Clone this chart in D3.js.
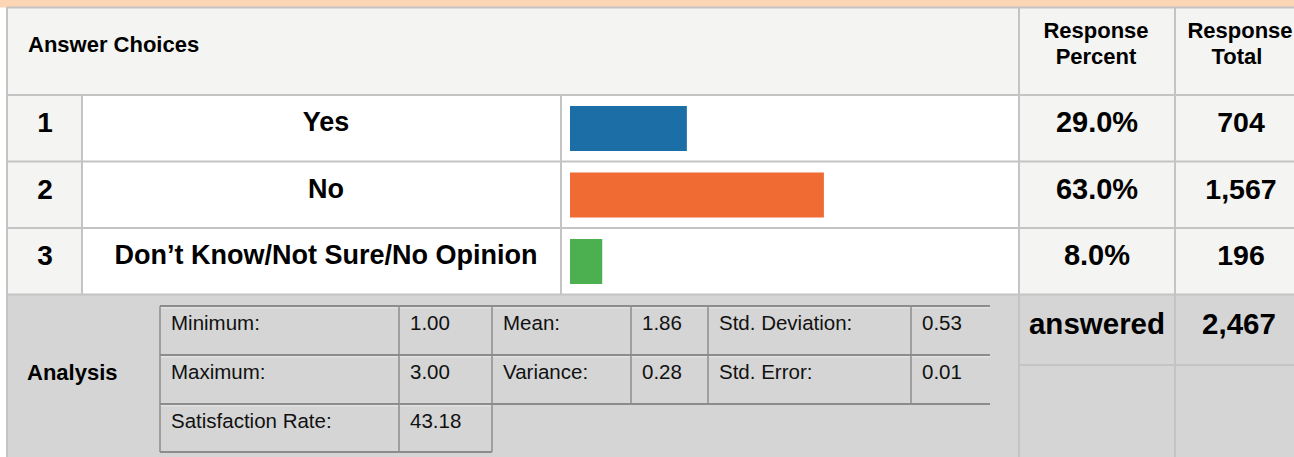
<!DOCTYPE html>
<html>
<head>
<meta charset="utf-8">
<script src="https://cdn.jsdelivr.net/npm/d3@7"></script>
<style>
  html, body { margin: 0; padding: 0; background: #fff; overflow: hidden; }
  svg { display: block; font-family: "Liberation Sans", Arial, sans-serif; }
</style>
</head>
<body>
<div id="chart"></div>
<script>
var choiceNumbers = [1, 2, 3];
var choiceLabels = ["Yes", "No", "Don’t Know/Not Sure/No Opinion"];
var responsePercent = [29.0, 63.0, 8.0];
var responseTotal = [704, 1567, 196];
var answeredTotal = 2467;

var statLabels = ["Minimum:", "Mean:", "Std. Deviation:", "Maximum:", "Variance:", "Std. Error:", "Satisfaction Rate:"];
var statValues = ["1.00", "1.86", "0.53", "3.00", "0.28", "0.01", "43.18"];

var W = 1294, H = 457;
var gridColor = "#c4c4c4";
var lightBg = "#f4f4f2";
var grayBg = "#d5d5d5";

// column edges
var colLeft = 8, colNum = 82, colBar = 561, colPct = 1019, colTot = 1175;

var svg = d3.select("#chart").append("svg")
    .attr("width", W)
    .attr("height", H);

var rowY = d3.scaleBand()
    .domain(choiceNumbers)
    .range([95, 294.5]);

var barX = d3.scaleLinear()
    .domain([0, 100])
    .range([0, 403]);

var barColor = d3.scaleOrdinal()
    .domain(choiceNumbers)
    .range(["#1c6fa6", "#f06a33", "#4caf50"]);

var fmtPct = function(v) { return d3.format(".1f")(v) + "%"; };
var fmtTot = d3.format(",");

// background blocks
svg.append("rect").attr("x", 0).attr("y", 0).attr("width", W).attr("height", 7.5).attr("fill", "#fcd5b4");
svg.append("rect").attr("x", colLeft).attr("y", 8).attr("width", W).attr("height", 87).attr("fill", lightBg);
svg.append("rect").attr("x", colLeft).attr("y", 295).attr("width", W).attr("height", H - 295).attr("fill", grayBg);

var rows = svg.selectAll("g.row")
    .data(choiceNumbers)
    .enter().append("g")
    .attr("class", "row")
    .attr("transform", function(d) { return "translate(0," + rowY(d) + ")"; });

rows.append("rect").attr("x", colLeft).attr("width", colNum - colLeft).attr("height", rowY.bandwidth()).attr("fill", lightBg);
rows.append("rect").attr("x", colNum).attr("width", colPct - colNum).attr("height", rowY.bandwidth()).attr("fill", "#fff");
rows.append("rect").attr("x", colPct).attr("width", W - colPct).attr("height", rowY.bandwidth()).attr("fill", lightBg);

// bars
rows.append("rect")
    .attr("x", 570)
    .attr("y", 11)
    .attr("height", 45)
    .attr("width", function(d, i) { return barX(responsePercent[i]); })
    .attr("fill", function(d) { return barColor(d); });

// grid lines
var hLines = [7.5, 95, 161.5, 228, 294.5];
svg.selectAll("line.h")
    .data(hLines)
    .enter().append("line")
    .attr("x1", colLeft - 1).attr("x2", W)
    .attr("y1", function(d) { return d; }).attr("y2", function(d) { return d; })
    .attr("stroke", gridColor).attr("stroke-width", 2);

var vLines = [
    {x: 7, y1: 7, y2: H},
    {x: colNum, y1: 95, y2: 294.5},
    {x: colBar, y1: 95, y2: 294.5},
    {x: colPct, y1: 7, y2: H},
    {x: colTot, y1: 7, y2: H}
];
svg.selectAll("line.v")
    .data(vLines)
    .enter().append("line")
    .attr("x1", function(d) { return d.x; }).attr("x2", function(d) { return d.x; })
    .attr("y1", function(d) { return d.y1; }).attr("y2", function(d) { return d.y2; })
    .attr("stroke", gridColor).attr("stroke-width", 2);

svg.append("line")
    .attr("x1", colPct).attr("x2", W).attr("y1", 365).attr("y2", 365)
    .attr("stroke", gridColor).attr("stroke-width", 2);

// header text
var bold = function(sel, size) {
    return sel.attr("font-weight", "bold").attr("font-size", size).attr("fill", "#000");
};
bold(svg.append("text").attr("x", 28).attr("y", 52).text("Answer Choices"), 22);
bold(svg.append("text").attr("x", 1096).attr("y", 38).attr("text-anchor", "middle").text("Response"), 22);
bold(svg.append("text").attr("x", 1096).attr("y", 64).attr("text-anchor", "middle").text("Percent"), 22);
bold(svg.append("text").attr("x", 1240).attr("y", 38).attr("text-anchor", "middle").text("Response"), 22);
bold(svg.append("text").attr("x", 1237).attr("y", 64).attr("text-anchor", "middle").text("Total"), 22);

// row text
bold(rows.append("text").attr("x", 45).attr("y", 37).attr("text-anchor", "middle")
    .text(function(d) { return d; }), 28);
bold(rows.append("text").attr("x", 326).attr("y", 36).attr("text-anchor", "middle")
    .text(function(d, i) { return choiceLabels[i]; }), 27);
bold(rows.append("text").attr("x", 1097).attr("y", 37).attr("text-anchor", "middle")
    .text(function(d, i) { return fmtPct(responsePercent[i]); }), 29);
bold(rows.append("text").attr("x", 1241).attr("y", 37).attr("text-anchor", "middle")
    .text(function(d, i) { return fmtTot(responseTotal[i]); }), 28.5);

// analysis block
bold(svg.append("text").attr("x", 27).attr("y", 380).text("Analysis"), 22);
bold(svg.append("text").attr("x", 1097).attr("y", 334).attr("text-anchor", "middle").text("answered"), 29.5);
bold(svg.append("text").attr("x", 1239).attr("y", 334).attr("text-anchor", "middle").text(fmtTot(answeredTotal)), 29.5);

var statCols = [160, 399, 492, 631, 708, 911, 990];
var statRows = [306, 355, 404, 452];
var stats = svg.append("g").attr("class", "stats");

// cells: label/value pairs laid out 3 per row
var statCells = statLabels.map(function(label, i) {
    return {label: label, value: statValues[i], row: Math.floor(i / 3), col: i % 3};
});

var darkLine = "#8c8c8c";
[0, 1, 2].forEach(function(r) {
    var right = r < 2 ? statCols[6] : statCols[2];
    stats.append("line").attr("x1", statCols[0]).attr("x2", right)
        .attr("y1", statRows[r] + 1.5).attr("y2", statRows[r] + 1.5)
        .attr("stroke", "#e2e2e2").attr("stroke-width", 2);
    stats.append("line").attr("x1", statCols[0]).attr("x2", right)
        .attr("y1", statRows[r]).attr("y2", statRows[r])
        .attr("stroke", darkLine).attr("stroke-width", 2);
});
stats.append("line").attr("x1", statCols[2]).attr("x2", statCols[6])
    .attr("y1", statRows[2]).attr("y2", statRows[2]).attr("stroke", darkLine).attr("stroke-width", 2);
stats.append("line").attr("x1", statCols[0]).attr("x2", statCols[2])
    .attr("y1", statRows[3]).attr("y2", statRows[3]).attr("stroke", darkLine).attr("stroke-width", 2);

[0, 1, 2].forEach(function(c) {
    stats.append("line").attr("x1", statCols[c]).attr("x2", statCols[c])
        .attr("y1", statRows[0]).attr("y2", statRows[3])
        .attr("stroke", darkLine).attr("stroke-width", 1.5);
});
[3, 4, 5].forEach(function(c) {
    stats.append("line").attr("x1", statCols[c]).attr("x2", statCols[c])
        .attr("y1", statRows[0]).attr("y2", statRows[2])
        .attr("stroke", darkLine).attr("stroke-width", 1.5);
});

var cellText = stats.selectAll("g.cell")
    .data(statCells)
    .enter().append("g")
    .attr("class", "cell");

cellText.append("text")
    .attr("x", function(d) { return statCols[d.col * 2] + 11; })
    .attr("y", function(d) { return statRows[d.row] + 24; })
    .attr("font-size", 20.5)
    .attr("fill", "#111")
    .text(function(d) { return d.label; });

cellText.append("text")
    .attr("x", function(d) { return statCols[d.col * 2 + 1] + 11; })
    .attr("y", function(d) { return statRows[d.row] + 24; })
    .attr("font-size", 20.5)
    .attr("fill", "#111")
    .text(function(d) { return d.value; });
</script>
</body>
</html>
